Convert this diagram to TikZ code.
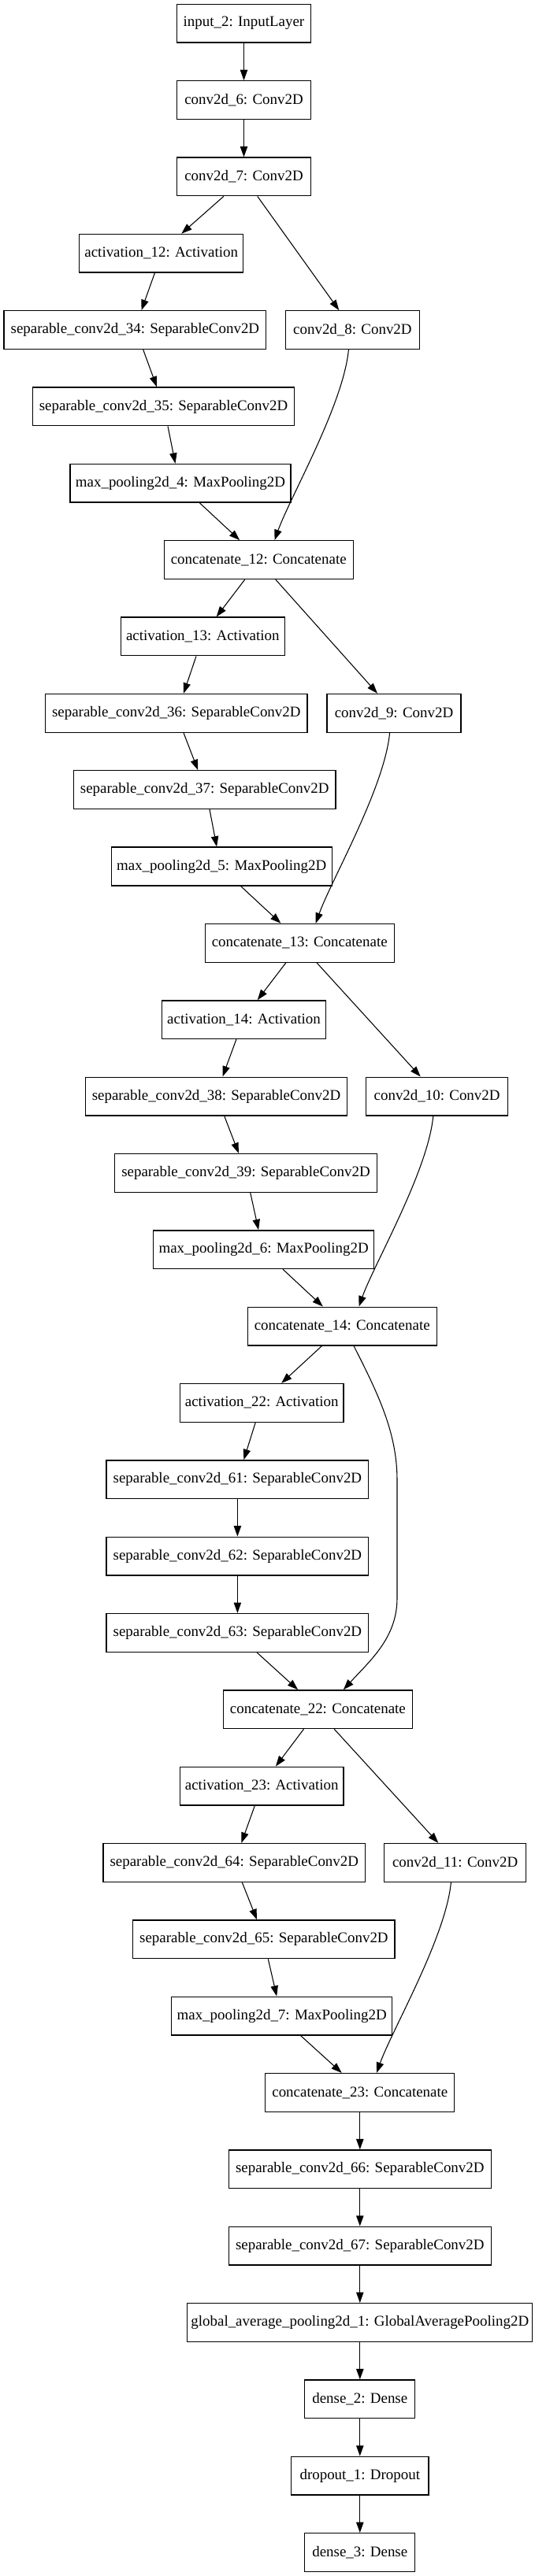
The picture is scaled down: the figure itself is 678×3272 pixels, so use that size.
\documentclass[tikz,border=0pt]{standalone}
\usepackage{fontspec}
\setmainfont{Liberation Serif}
\usetikzlibrary{arrows.meta,calc}
\tikzset{
 lbox/.style={draw=black, line width=1pt, rectangle, minimum height=48.7*0.75pt, inner xsep=0pt, inner ysep=0pt, font=\fontsize{14.2}{16}\selectfont, fill=white},
 arr/.style={-{Triangle[length=10pt,width=7pt]}, line width=0.8pt, black},
}
\newcommand\lay[5]{\node[lbox, minimum width=#4*0.75pt] (#1) at (#2,{29.75+97.34*#3}) {#5};}
\newcommand\sk[4]{\draw[arr] ($(#1.south)+(#2,0)$) -- ($(#3.north)+(#4,0)$);}
\newcommand\cv[4]{\draw[arr] ($(#1.south)+(#2,0)$) .. controls +(-6.6,70) and +(19.3,-54) .. ($(#3.north)+(#4,0)$);}
\begin{document}
\begin{tikzpicture}[x=0.75pt,y=-0.75pt]
\fill[white] (0,0) rectangle (678,3272);
\useasboundingbox (0,0) rectangle (678,3272);
\lay{in}{309.5}{0}{170}{input\_2: InputLayer}
\lay{cv6}{309.5}{1}{170.6}{conv2d\_6: Conv2D}
\lay{cv7}{309.5}{2}{170.6}{conv2d\_7: Conv2D}
\lay{a12}{204.7}{3}{207.8}{activation\_12: Activation}
\lay{s34}{171.4}{4}{332.5}{separable\_conv2d\_34: SeparableConv2D}
\lay{cv8}{447.4}{4}{170}{conv2d\_8: Conv2D}
\lay{s35}{207.5}{5}{332.5}{separable\_conv2d\_35: SeparableConv2D}
\lay{mp4}{229}{6}{280}{max\_pooling2d\_4: MaxPooling2D}
\lay{c12}{328.2}{7}{240}{concatenate\_12: Concatenate}
\lay{a13}{257.3}{8}{207.8}{activation\_13: Activation}
\lay{s36}{223.8}{9}{332.5}{separable\_conv2d\_36: SeparableConv2D}
\lay{cv9}{500}{9}{170}{conv2d\_9: Conv2D}
\lay{s37}{259.7}{10}{332.5}{separable\_conv2d\_37: SeparableConv2D}
\lay{mp5}{281.2}{11}{280}{max\_pooling2d\_5: MaxPooling2D}
\lay{c13}{380.2}{12}{240}{concatenate\_13: Concatenate}
\lay{a14}{309.5}{13}{207.8}{activation\_14: Activation}
\lay{s38}{274.5}{14}{332.5}{separable\_conv2d\_38: SeparableConv2D}
\lay{cv10}{554.6}{14}{180}{conv2d\_10: Conv2D}
\lay{s39}{312}{15}{332.5}{separable\_conv2d\_39: SeparableConv2D}
\lay{mp6}{334.6}{16}{280}{max\_pooling2d\_6: MaxPooling2D}
\lay{c14}{434.2}{17}{240}{concatenate\_14: Concatenate}
\lay{a22}{332.2}{18}{207.8}{activation\_22: Activation}
\lay{s61}{301.4}{19}{332.5}{separable\_conv2d\_61: SeparableConv2D}
\lay{s62}{301.4}{20}{332.5}{separable\_conv2d\_62: SeparableConv2D}
\lay{s63}{301.4}{21}{332.5}{separable\_conv2d\_63: SeparableConv2D}
\lay{c22}{403.4}{22}{240}{concatenate\_22: Concatenate}
\lay{a23}{332.2}{23}{207.8}{activation\_23: Activation}
\lay{s64}{297.3}{24}{332.5}{separable\_conv2d\_64: SeparableConv2D}
\lay{cv11}{577.6}{24}{180}{conv2d\_11: Conv2D}
\lay{s65}{334.9}{25}{332.5}{separable\_conv2d\_65: SeparableConv2D}
\lay{mp7}{357.7}{26}{280}{max\_pooling2d\_7: MaxPooling2D}
\lay{c23}{456.8}{27}{240}{concatenate\_23: Concatenate}
\lay{s66}{456.8}{28}{332.9}{separable\_conv2d\_66: SeparableConv2D}
\lay{s67}{456.8}{29}{332.9}{separable\_conv2d\_67: SeparableConv2D}
\lay{gap}{456.8}{30}{438}{global\_average\_pooling2d\_1: GlobalAveragePooling2D}
\lay{d2}{456.8}{31}{140}{dense\_2: Dense}
\lay{dr}{456.8}{32}{174.3}{dropout\_1: Dropout}
\lay{d3}{456.8}{33}{140}{dense\_3: Dense}
% edges
\sk{in}{0}{cv6}{0}
\sk{cv6}{0}{cv7}{0}
\sk{cv7}{-25.7}{a12}{25.6}
\sk{cv7}{17.3}{cv8}{-17.1}
\sk{a12}{-8.3}{s34}{8.1}
\sk{s34}{10.3}{s35}{-8.5}
\sk{s35}{5.5}{mp4}{-6.5}
\sk{mp4}{24.4}{c12}{-24}
\cv{cv8}{-5}{c12}{20.3}
\sk{c12}{-17.5}{a13}{17.4}
\sk{c12}{21.6}{cv9}{-21}
\sk{a13}{-8.3}{s36}{9.2}
\sk{s36}{9.2}{s37}{-8.5}
\sk{s37}{6.3}{mp5}{-6.1}
\sk{mp5}{24.3}{c13}{-23.8}
\cv{cv9}{-5.4}{c13}{20.5}
\sk{c13}{-17.3}{a14}{17.3}
\sk{c13}{21.8}{cv10}{-20.9}
\sk{a14}{-9.6}{s38}{8}
\sk{s38}{10.2}{s39}{-9.1}
\sk{s39}{5.7}{mp6}{-6.5}
\sk{mp6}{24.4}{c14}{-24.4}
\cv{cv10}{-4.8}{c14}{21.3}
\sk{c14}{-25.7}{a22}{25}
\coordinate (k1) at (504,1880);
\coordinate (k2) at (504,2030);
\draw[arr] ($(c14.south)+(14.8,0)$) .. controls +(31,61) and +(0,-60) .. (k1) -- (k2) .. controls +(0,50) and +(34.1,-37.3) .. ($(c22.north)+(32.5,0)$);
\sk{a22}{-8}{s61}{8}
\sk{s61}{0}{s62}{0}
\sk{s62}{0}{s63}{0}
\sk{s63}{24.6}{c22}{-25.3}
\sk{c22}{-17.9}{a23}{17.7}
\sk{c22}{20.8}{cv11}{-21.3}
\sk{a23}{-8.9}{s64}{9.1}
\sk{s64}{10}{s65}{-8.9}
\sk{s65}{5.4}{mp7}{-6.5}
\sk{mp7}{23.9}{c23}{-23.1}
\cv{cv11}{-5.2}{c23}{21.2}
\sk{c23}{0}{s66}{0}
\sk{s66}{0}{s67}{0}
\sk{s67}{0}{gap}{0}
\sk{gap}{0}{d2}{0}
\sk{d2}{0}{dr}{0}
\sk{dr}{0}{d3}{0}
\end{tikzpicture}
\end{document}
